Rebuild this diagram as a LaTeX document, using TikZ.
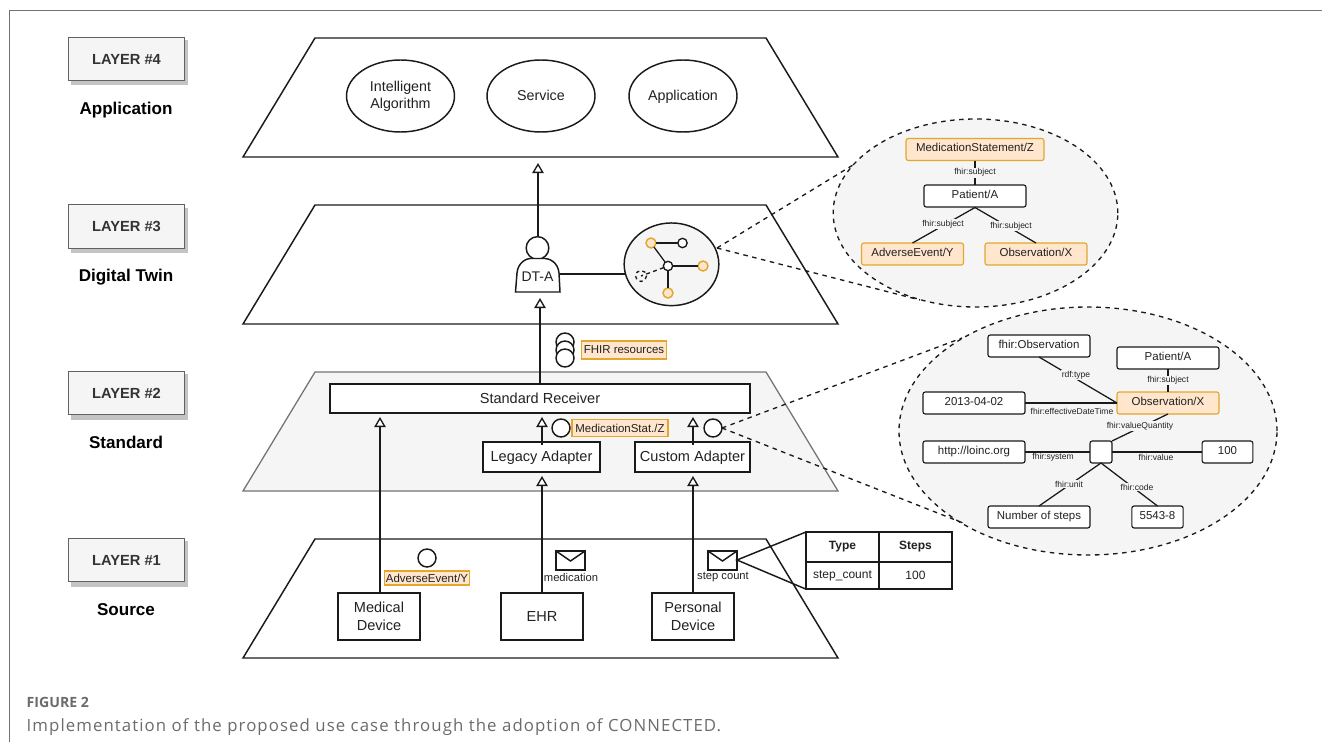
\documentclass[tikz,border=0pt]{standalone}
\usepackage{fontspec}
\setmainfont{Liberation Sans}
\newfontfamily\capfont[LetterSpace=6.4]{Open Sans}
\newfontfamily\figfont{Open Sans}
\usetikzlibrary{arrows.meta,calc,shapes.geometric}
\definecolor{ink}{HTML}{1A1A1A}
\definecolor{ora}{HTML}{E3A72F}
\definecolor{orafill}{HTML}{FFE6CC}
\definecolor{panel}{HTML}{F5F5F5}
\definecolor{shadowc}{HTML}{C4C4C4}
\definecolor{lblc}{HTML}{222222}
\tikzset{
 x=0.75pt,y=-0.75pt,
 every node/.style={inner sep=0pt,outer sep=0pt,text=lblc},
 line/.style={draw=ink,line width=1.1pt},
 flow/.style={line,-{Triangle[open,fill=white,length=7.5pt,width=8.5pt,line width=1pt]}},
 trap/.style={line},
 layerbox/.style={draw=black!62,fill=panel,line width=0.95pt,minimum width=87pt,minimum height=32.5pt,font=\bfseries\fontsize{11}{13}\selectfont,text=black!80},
 layername/.style={anchor=base,font=\bfseries\fontsize{12.8}{15}\selectfont,text=black},
 oval/.style={line,fill=white,minimum width=81pt,minimum height=54pt,shape=ellipse,align=center,font=\fontsize{10.7}{13}\selectfont},
 oneline/.style={text height=7.5pt,text depth=0pt},
 box/.style={line,fill=white,align=center,font=\fontsize{10.9}{13.5}\selectfont},
 rbox/.style={draw=ink,line width=0.85pt,fill=white,rounded corners=1.7pt,minimum width=76.5pt,minimum height=16.5pt,text height=6.5pt,text depth=3pt,font=\fontsize{8.6}{10}\selectfont},
 obox/.style={rbox,draw=ora,fill=orafill},
 tag/.style={draw=ora,line width=0.85pt,fill=orafill,minimum height=13pt,font=\fontsize{8.6}{10}\selectfont},
 edgelbl/.style={fill=panel,inner sep=0.6pt,font=\fontsize{6.4}{7}\selectfont},
 plainlbl/.style={font=\fontsize{6.4}{7}\selectfont},
 lens/.style={draw=ink,fill=panel,line width=1pt,dash pattern=on 3.4pt off 3.4pt},
 ray/.style={draw=ink,line width=1pt,dash pattern=on 3.4pt off 3.4pt},
 rel/.style={draw=ink,line width=0.95pt},
 msg/.style={line,fill=white},
 token/.style={line,fill=white,shape=circle,minimum size=13.5pt},
 dot/.style={line width=1pt,draw=ink,fill=white,shape=circle,minimum size=7pt},
 odot/.style={line width=1.1pt,draw=ora,fill=orafill,shape=circle,minimum size=7.5pt},
 small/.style={font=\fontsize{8.4}{10}\selectfont},
 cell/.style={font=\fontsize{9}{11}\selectfont},
}
\begin{document}
\begin{tikzpicture}
\useasboundingbox (0,0) rectangle (1322,742);
% frame
\draw[draw=black!55,line width=0.9pt] (9.5,742) -- (9.5,10.5) -- (1322,10.5);
% trapezoids
\draw[trap] (315,38) -- (766,38) -- (838,157) -- (243,157) -- cycle;
\draw[trap] (315,205) -- (766,205) -- (838,324) -- (243,324) -- cycle;
\draw[draw=black!55,line width=0.95pt,fill=panel] (315,372) -- (766,372) -- (838,491) -- (243,491) -- cycle;
\draw[trap] (315,539) -- (766,539) -- (838,658) -- (243,658) -- cycle;
% layer labels
\foreach \n/\yy/\t/\nm/\yn in {a/59/4/Application/114,b/226.5/3/Digital Twin/281,c/393/2/Standard/448,d/560/1/Source/615}{
  \fill[shadowc] (71,{\yy-19}) rectangle (188,{\yy+26.5});
  \node[layerbox] (lay\n) at (126.5,\yy) {LAYER \#\t};
  \node[layername] (nm\n) at (126,\yn) {\nm};
}
% layer 4
\node[oval] (algo) at (400.5,96) {Intelligent\\Algorithm};
\node[oval,oneline] (serv) at (541,96) {Service};
\node[oval,oneline] (appl) at (683,96) {Application};
% layer 3
\node[line,fill=white,shape=circle,minimum size=17pt] (head) at (537.5,248) {};
\draw[line,fill=white] (515.5,292) -- (517,273) .. controls (518,262) and (527,258.5) .. (530,258.5) -- (545,258.5) .. controls (549,258.5) and (558,262) .. (559,273) -- (560,292) -- cycle;
\node[font=\fontsize{10.5}{12}\selectfont] (dta) at (537.5,277) {DT-A};
\coordinate (dtaR) at (560,274);
\coordinate (dtaB) at (540,298);
\coordinate (dtaT) at (538,237);
\coordinate (l4B) at (538,163);
\draw[flow] (dtaT) -- (l4B);
\node[line,fill=panel,shape=ellipse,minimum width=71pt,minimum height=62pt] (graph) at (671.5,264.3) {};
\coordinate (gw) at (625,274);
\draw[line] (dtaR) -- (gw);
\node[dot] (g0) at (668,266) {};
\node[odot] (g1) at (651,243) {};
\node[dot] (g2) at (682.5,243) {};
\node[odot] (g3) at (703,266) {};
\node[odot] (g4) at (668,293) {};
\coordinate (g5) at (641,276);
\draw[rel] (g1)--(g2);
\draw[rel] (g1)--(g0);
\draw[rel] (g0)--(g3);
\draw[rel] (g0)--(g4);
\draw[ray,dash pattern=on 3pt off 2.5pt] (g0)--(g5);
\draw[ray,dash pattern=on 2.5pt off 2.5pt] (g5) circle[radius=5.5];
% rays
\coordinate (lensAanchor) at (717,248);
% layer 2
\node[box,minimum width=315pt,minimum height=22pt] (recv) at (540,398.5) {Standard Receiver};
\node[box,text depth=0.8pt,minimum width=88pt,minimum height=22.5pt] (leg) at (541.5,457) {Legacy Adapter};
\node[box,text depth=0.8pt,minimum width=86.5pt,minimum height=22.5pt] (cust) at (692.5,457) {Custom Adapter};
\node[token] (tokA) at (561,428) {};
\node[token] (tokB) at (713,428) {};
\node[tag,minimum width=72pt] (tagA) at (620,428) {MedicationStat./Z};
% FHIR
\node[token] (f1) at (565,342) {};
\node[token] (f2) at (565,350) {};
\node[token] (f3) at (565,358) {};
\node[tag,minimum width=64pt,minimum height=13.5pt] (tagF) at (624,350) {FHIR resources};
% layer 1
\node[box,minimum width=61.5pt,minimum height=35pt] (med) at (379,616.5) {Medical\\Device};
\node[box,minimum width=61.5pt,minimum height=35pt] (ehr) at (542,616.5) {EHR};
\node[box,minimum width=61.5pt,minimum height=35pt] (per) at (693,616.5) {Personal\\Device};
\node[token] (tokC) at (427,558) {};
\node[tag,minimum width=64pt,minimum height=10.5pt] (tagC) at (427,578) {AdverseEvent/Y};
% flows
\draw[flow] (380,593) -- (380,417);
\draw[flow] (542,445) -- (542,417);
\draw[flow] (693,445) -- (693,417);
\draw[flow] (542,593) -- (542,476);
\draw[flow] (693,593) -- (693,476);
\draw[flow] (540,384) -- (dtaB);
% envelopes
\foreach \n/\xx/\lab in {e1/556/medication,e2/708/step count}{
  \draw[msg] (\xx,551) rectangle (\xx+29,570);
  \draw[msg,fill=none] (\xx,551) -- (\xx+14.5,561) -- (\xx+29,551);
  \coordinate (\n) at (\xx+29,560);
  \node[small] (\n lab) at (\xx+15,577) {\lab};
}
% table
\node[line,fill=white,minimum width=54.7pt,minimum height=22.5pt,font=\bfseries\fontsize{9}{11}\selectfont] (tA) at (842.5,547) {Type};
\node[line,fill=white,minimum width=54.7pt,minimum height=22.5pt,font=\bfseries\fontsize{9}{11}\selectfont] (tB) at (915.5,547) {Steps};
\node[line,fill=white,minimum width=54.7pt,minimum height=20.5pt,cell] (tC) at (842.5,575.5) {step\_count};
\node[line,fill=white,minimum width=54.7pt,minimum height=20.5pt,cell] (tD) at (915.5,575.5) {100};
\draw[line] (tA.north west) -- (e2) -- (tC.south west);
% rays + lens
\node[lens,shape=ellipse,minimum width=213.5pt,minimum height=141pt] (lensA) at (975.5,213) {};
\node[lens,shape=ellipse,minimum width=283.5pt,minimum height=186pt] (lensB) at (1088,431) {};
\coordinate (raA1) at (853,165);
\coordinate (raA2) at (920,300);
\coordinate (raB1) at (962,338);
\coordinate (raB2) at (963,523);
\draw[ray] (lensAanchor) -- (raA1);
\draw[ray] (lensAanchor) -- (raA2);
\draw[ray] (tokB.east) -- (raB1);
\draw[ray] (tokB.east) -- (raB2);
% lens A content
\node[obox,minimum width=103.5pt] (mA) at (975,149.5) {MedicationStatement/Z};
\node[rbox] (pA) at (975,196) {Patient/A};
\node[obox] (aA) at (912.5,254) {AdverseEvent/Y};
\node[obox] (oA) at (1036,254) {Observation/X};
\draw[rel] (mA) -- node[edgelbl]{fhir:subject} (pA);
\draw[rel] (975,207.5) -- (aA.north);
\draw[rel] (975,207.5) -- (oA.north);
\node[edgelbl] (lsa) at (943,224) {fhir:subject};
\node[edgelbl] (lsb) at (1011,226) {fhir:subject};
% lens B content
\node[rbox] (bt) at (1039,346) {fhir:Observation};
\node[rbox] (bp) at (1168,358) {Patient/A};
\node[obox] (bo) at (1168,403) {Observation/X};
\node[rbox] (bd) at (974,403) {2013-04-02};
\node[rbox] (bl) at (974,452) {http://loinc.org};
\node[rbox,minimum width=16.5pt] (bs) at (1101,452) {};
\node[rbox,minimum width=38pt] (bv) at (1227.5,452) {100};
\node[rbox] (bn) at (1039,517) {Number of steps};
\node[rbox,minimum width=38.5pt] (bc) at (1157.5,517) {5543-8};
\draw[rel] (bt.south) -- (bo.west);
\node[edgelbl] (ltype) at (1076,375) {rdf:type};
\draw[rel] (bd.east) -- (bo.west);
\node[plainlbl] (ledt) at (1072,411) {fhir:effectiveDateTime};
\draw[rel] (bp) -- node[edgelbl]{fhir:subject} (bo);
\draw[rel] (bo.south) -- (bs.north east);
\node[edgelbl] (lvq) at (1140,426) {fhir:valueQuantity};
\draw[rel] (bl.east) -- (bs.west);
\node[plainlbl] (lsys) at (1053,457.5) {fhir:system};
\draw[rel] (bs.east) -- (bv.west);
\node[plainlbl] (lval) at (1156,457.5) {fhir:value};
\draw[rel] (bs.south) -- (bn.north);
\draw[rel] (bs.south) -- (bc.north);
\node[edgelbl] (lunit) at (1069,484) {fhir:unit};
\node[edgelbl] (lcode) at (1137,487) {fhir:code};
% caption
\node[anchor=base west,font=\figfont\bfseries\fontsize{10.6}{12}\selectfont,text=black!58] (figno) at (26.7,707.7) {FIGURE 2};
\node[anchor=base west,font=\capfont\fontsize{12.6}{15}\selectfont,text=black!58] (capt) at (26.7,731.7) {Implementation of the proposed use case through the adoption of CONNECTED.};
\end{tikzpicture}
\end{document}
